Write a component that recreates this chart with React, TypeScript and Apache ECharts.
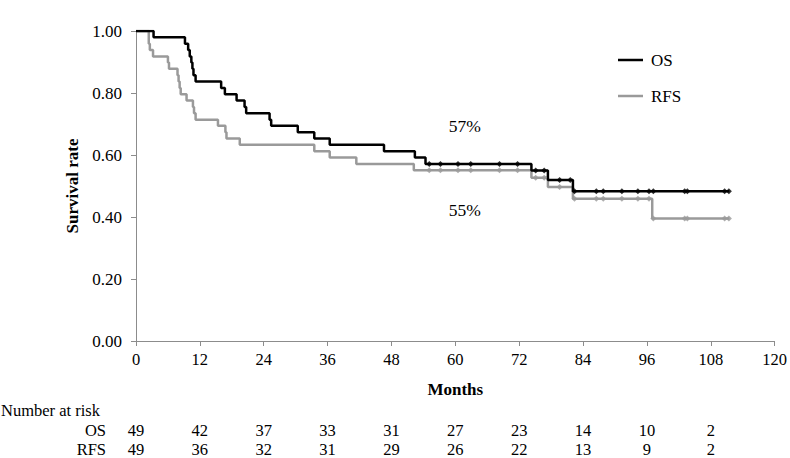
import React, { useEffect, useRef } from "react";
import * as echarts from "echarts";

const FONT = "Liberation Serif";

// Kaplan–Meier step points [month, survival]
const osSteps: [number, number][] = [
  [0, 1.0], [3.3, 0.98], [9.2, 0.959], [9.8, 0.939], [10.1, 0.918], [10.4, 0.898],
  [10.6, 0.878], [10.8, 0.857], [11.2, 0.837], [16.0, 0.816], [16.7, 0.796],
  [18.9, 0.776], [20.4, 0.755], [20.7, 0.735], [25.1, 0.714], [25.4, 0.694],
  [30.4, 0.673], [33.5, 0.653], [36.4, 0.633], [46.6, 0.612], [52.4, 0.592],
  [54.4, 0.571], [74.3, 0.55], [77.4, 0.519], [82.1, 0.483], [111.5, 0.483],
];
const rfsSteps: [number, number][] = [
  [0, 1.0], [2.4, 0.959], [2.6, 0.939], [3.2, 0.918], [6.0, 0.898], [6.2, 0.878],
  [7.8, 0.857], [8.0, 0.837], [8.2, 0.816], [8.4, 0.796], [9.5, 0.776],
  [10.7, 0.755], [10.9, 0.735], [11.2, 0.714], [15.4, 0.694], [16.8, 0.673],
  [17.0, 0.653], [19.5, 0.633], [33.5, 0.612], [36.4, 0.592], [41.4, 0.571],
  [52.2, 0.551], [74.3, 0.527], [77.4, 0.497], [82.1, 0.459], [97.0, 0.395],
  [111.5, 0.395],
];
// censored observations [month, survival]
const osCensor: [number, number][] = [
  [55.1, 0.571], [57.2, 0.571], [60.5, 0.571], [62.9, 0.571], [68.3, 0.571], [71.7, 0.571],
  [75.1, 0.55], [76.7, 0.55], [79.6, 0.519], [81.6, 0.519],
  [82.4, 0.483], [86.5, 0.483], [87.8, 0.483], [91.3, 0.483], [94.3, 0.483], [96.4, 0.483],
  [97.2, 0.483], [103.1, 0.483], [103.6, 0.483], [110.6, 0.483], [111.4, 0.483],
];
const rfsCensor: [number, number][] = [
  [55.1, 0.551], [57.2, 0.551], [60.5, 0.551], [62.9, 0.551], [68.3, 0.551], [71.7, 0.551],
  [75.1, 0.527], [76.7, 0.527], [79.6, 0.497],
  [82.4, 0.459], [86.5, 0.459], [87.8, 0.459], [91.3, 0.459], [94.3, 0.459], [96.4, 0.459],
  [97.2, 0.395], [103.1, 0.395], [103.6, 0.395], [110.6, 0.395], [111.4, 0.395],
];

const riskTimes = [0, 12, 24, 36, 48, 60, 72, 84, 96, 108];
const riskOS = [49, 42, 37, 33, 31, 27, 23, 14, 10, 2];
const riskRFS = [49, 36, 32, 31, 29, 26, 22, 13, 9, 2];

const annotations: { text: string; x: number; y: number }[] = [
  { text: "57%", x: 61.8, y: 0.693 },
  { text: "55%", x: 61.8, y: 0.421 },
];

export default function App() {
  const ref = useRef<HTMLDivElement>(null);
  useEffect(() => {
    if (!ref.current) return;
    const chart = echarts.init(ref.current, undefined, { renderer: "svg" });
    const gray = "#9a9a9a";
    const axisGray = "#8c8c8c";
    chart.setOption({
      animation: false,
      backgroundColor: "#ffffff",
      textStyle: { fontFamily: FONT },
      grid: { left: 136, right: 13, top: 31, bottom: 117, containLabel: false },
      legend: {
        data: [
          { name: "OS", icon: "rect", itemStyle: { color: "#000" } },
          { name: "RFS", icon: "rect", itemStyle: { color: gray } },
        ],
        orient: "vertical",
        left: 613,
        top: 46.5,
        itemWidth: 25,
        itemHeight: 2.5,
        itemGap: 19,
        textStyle: { fontFamily: FONT, fontSize: 17, color: "#000", padding: [0, 0, 0, 3] },
      },
      xAxis: {
        type: "value",
        min: 0,
        max: 120,
        interval: 12,
        name: "Months",
        nameLocation: "middle",
        nameGap: 40,
        nameTextStyle: { fontFamily: FONT, fontSize: 17, fontWeight: "bold", color: "#000" },
        splitLine: { show: false },
        axisLine: { lineStyle: { color: axisGray, width: 1 } },
        axisTick: { show: true, length: 5, lineStyle: { color: axisGray } },
        axisLabel: { fontFamily: FONT, fontSize: 16.5, color: "#000", margin: 10 },
      },
      yAxis: {
        type: "value",
        min: 0,
        max: 1,
        interval: 0.2,
        name: "Survival rate",
        nameLocation: "middle",
        nameGap: 55,
        nameTextStyle: { fontFamily: FONT, fontSize: 17, fontWeight: "bold", color: "#000" },
        splitLine: { show: false },
        axisLine: { show: true, lineStyle: { color: axisGray, width: 1 } },
        axisTick: { show: true, length: 5, lineStyle: { color: axisGray } },
        axisLabel: {
          fontFamily: FONT,
          fontSize: 17,
          color: "#000",
          margin: 14,
          formatter: (v: number) => v.toFixed(2),
        },
      },
      series: [
        {
          name: "RFS",
          type: "line",
          step: "end",
          data: rfsSteps,
          showSymbol: false,
          symbol: "none",
          lineStyle: { color: gray, width: 2.5 },
          itemStyle: { color: gray },
          z: 2,
        },
        {
          name: "OS",
          type: "line",
          step: "end",
          data: osSteps,
          showSymbol: false,
          symbol: "none",
          lineStyle: { color: "#000", width: 2.5 },
          itemStyle: { color: "#000" },
          z: 3,
        },
        {
          name: "RFS censored",
          type: "scatter",
          data: rfsCensor,
          symbol: "diamond",
          symbolSize: 6,
          itemStyle: { color: gray },
          z: 4,
        },
        {
          name: "OS censored",
          type: "scatter",
          data: osCensor,
          symbol: "diamond",
          symbolSize: 6,
          itemStyle: { color: "#000" },
          z: 5,
        },
      ],
    });

    const graphics: any[] = [];
    const txt = (text: string, x: number, y: number, align: string, size: number) => ({
      type: "text",
      x,
      y,
      style: {
        text,
        fontFamily: FONT,
        fontSize: size,
        fill: "#000",
        align,
        verticalAlign: "middle",
      },
    });
    annotations.forEach((a) => {
      const p = chart.convertToPixel({ gridIndex: 0 }, [a.x, a.y]) as number[];
      graphics.push(txt(a.text, p[0], p[1], "center", 17.5));
    });
    graphics.push(txt("Number at risk", 1, 410, "left", 16.5));
    const rows: { label: string; values: number[]; y: number }[] = [
      { label: "OS", values: riskOS, y: 430 },
      { label: "RFS", values: riskRFS, y: 449 },
    ];
    rows.forEach((r) => {
      graphics.push(txt(r.label, 106, r.y, "right", 16.5));
      r.values.forEach((v, i) => {
        const px = chart.convertToPixel({ xAxisIndex: 0 }, riskTimes[i]) as number;
        graphics.push(txt(String(v), px, r.y, "center", 16.5));
      });
    });
    chart.setOption({ graphic: graphics });

    return () => chart.dispose();
  }, []);
  return (
    <div
      ref={ref}
      style={{ position: "fixed", left: 0, top: 0, width: 790, height: 458, background: "#fff" }}
    />
  );
}
